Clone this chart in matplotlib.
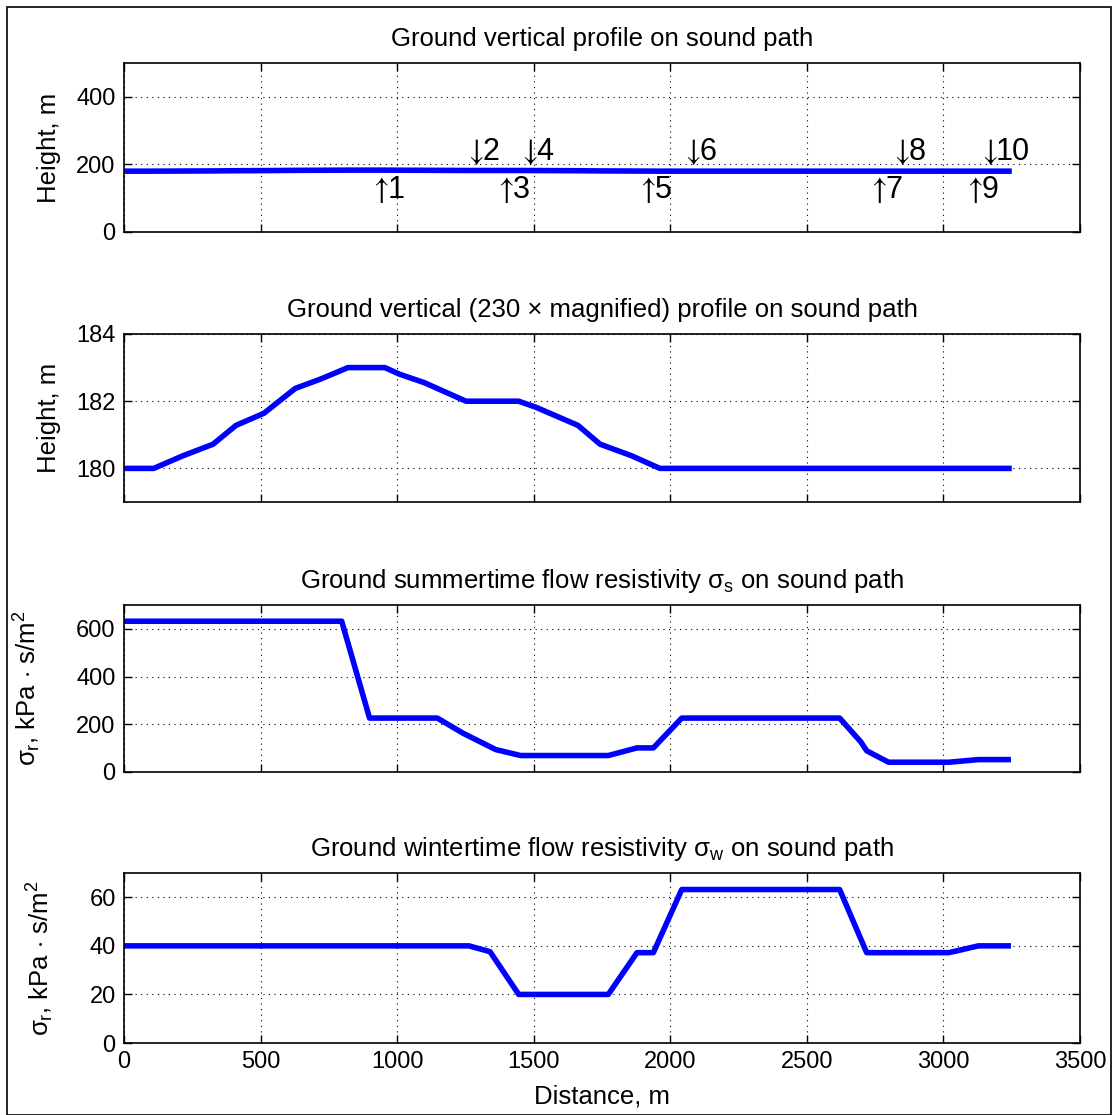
import numpy as np
import matplotlib
matplotlib.use("Agg")
import matplotlib.pyplot as plt
from matplotlib.patches import Rectangle

plt.rcParams['font.family'] = ['Liberation Sans', 'DejaVu Sans']
plt.rcParams['mathtext.fontset'] = 'custom'
plt.rcParams['mathtext.rm'] = 'Liberation Sans'
plt.rcParams['mathtext.it'] = 'Liberation Sans'
plt.rcParams['font.size'] = 17

# --- data: ground profile along the sound path ---
dist_h = [0, 109, 214, 326, 410, 512, 627, 717, 820, 955, 1010, 1100, 1252,
          1445, 1508, 1662, 1743, 1857, 1962, 3240]
height = [180, 180, 180.37, 180.72, 181.28, 181.64, 182.38, 182.65, 183, 183,
          182.8, 182.55, 182, 182, 181.82, 181.28, 180.72, 180.38, 180, 180]

# summertime flow resistivity, kPa s/m^2
dist_s = [0, 797, 899, 1147, 1242, 1361, 1452, 1773, 1878, 1938, 2042, 2620,
          2697, 2719, 2799, 3020, 3128, 3237]
sigma_s = [632, 632, 226, 226, 162, 94, 69, 69, 101, 101, 226, 226, 127, 89,
           41, 41, 52, 52]

# wintertime flow resistivity, kPa s/m^2
dist_w = [0, 1263, 1340, 1445, 1773, 1878, 1938, 2042, 2620, 2719, 3020, 3128, 3237]
sigma_w = [40, 40, 37.6, 20, 20, 37.2, 37.2, 63.2, 63.2, 37.2, 37.2, 40, 40]

# receiver markers along the path (up = below the line, down = above it)
mark_num = [1, 2, 3, 4, 5, 6, 7, 8, 9, 10]
mark_x = [934, 1283, 1392, 1480, 1912, 2076, 2756, 2842, 3110, 3162]
mark_up = [True, False, True, False, True, False, True, False, True, False]

fig = plt.figure(figsize=(11.15, 11.15), dpi=100)
fig.patches.append(Rectangle((7 / 1115, 0), 1 - 11 / 1115, 1 - 7 / 1115,
                             transform=fig.transFigure, fill=False,
                             edgecolor='k', linewidth=1.2))

left, width = 124 / 1115, 956 / 1115
boxes = [(232, 169), (502, 168), (772, 167), (1043, 170)]
axes = [fig.add_axes([left, 1 - b / 1115, width, h / 1115]) for b, h in boxes]

fs_lab = 18.5


def style(ax, ylim, yticks):
    ax.set_xlim(0, 3500)
    ax.set_xticks(np.arange(0, 3501, 500))
    ax.set_ylim(*ylim)
    ax.set_yticks(yticks)
    ax.grid(True, color='k', linestyle=(0, (1, 4)), linewidth=0.8)
    ax.tick_params(direction='in', top=True, right=True, length=6, width=1,
                   labelsize=17, pad=6)
    for s in ax.spines.values():
        s.set_linewidth(1.2)


lw = 4
ax = axes[0]
ax.plot(dist_h, height, color='b', linewidth=lw)
style(ax, (0, 500), [0, 200, 400])
ax.set_xticklabels([])
ax.set_ylabel('Height, m', fontsize=fs_lab, labelpad=11)
ax.set_title('Ground vertical profile on sound path', fontsize=fs_lab, pad=12)
for n, x, up in zip(mark_num, mark_x, mark_up):
    y = 124 if up else 238
    arrow = r'$\uparrow$' if up else r'$\downarrow$'
    ax.text(x, y, arrow, ha='center', va='center', fontsize=22,
            math_fontfamily='stix')
    ax.annotate('%d' % n, xy=(x, y), xytext=(6, 0), textcoords='offset points',
                ha='left', va='center', fontsize=22)

ax = axes[1]
ax.plot(dist_h, height, color='b', linewidth=lw)
style(ax, (179, 184), [180, 182, 184])
ax.set_xticklabels([])
ax.set_ylabel('Height, m', fontsize=fs_lab, labelpad=11)
ax.set_title('Ground vertical (230 \u00d7 magnified) profile on sound path',
             fontsize=fs_lab, pad=12)

ax = axes[2]
ax.plot(dist_s, sigma_s, color='b', linewidth=lw)
style(ax, (0, 700), [0, 200, 400, 600])
ax.set_xticklabels([])
ax.set_ylabel(r'$\sigma_r$, kPa $\cdot$ s/m$^2$', fontsize=fs_lab, labelpad=24)
ax.set_title(r'Ground summertime flow resistivity $\sigma_s$ on sound path',
             fontsize=fs_lab, pad=12)

ax = axes[3]
ax.plot(dist_w, sigma_w, color='b', linewidth=lw)
style(ax, (0, 70), [0, 20, 40, 60])
ax.set_ylabel(r'$\sigma_r$, kPa $\cdot$ s/m$^2$', fontsize=fs_lab, labelpad=24)
ax.set_xlabel('Distance, m', fontsize=fs_lab, labelpad=8)
ax.set_title(r'Ground wintertime flow resistivity $\sigma_w$ on sound path',
             fontsize=fs_lab, pad=12)

fig.savefig('out.png', dpi=100)
